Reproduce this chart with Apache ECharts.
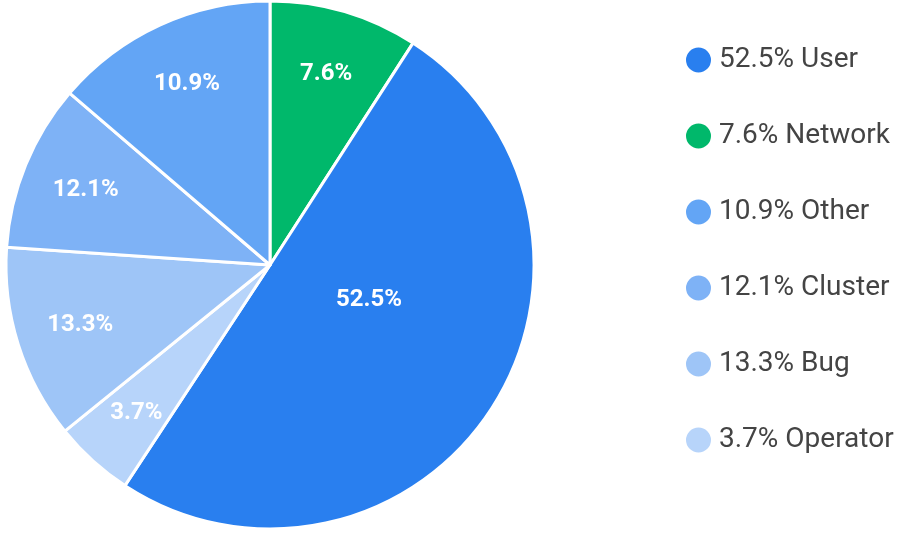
<!DOCTYPE html>
<html>
<head>
<meta charset="utf-8">
<script src="https://cdn.jsdelivr.net/npm/echarts@6/dist/echarts.min.js"></script>
<style>html,body{margin:0;padding:0;background:#fff}#c{width:899px;height:535px}</style>
</head>
<body>
<div id="c"></div>
<script>
// Slices in drawing order (clockwise from 12 o'clock)
var names = ['Network', 'User', 'Operator', 'Bug', 'Cluster', 'Other'];
// Slice sizes as drawn in the picture (percent of circle)
var sliceValues = [9.1, 50.1, 4.9, 11.9, 10.2, 13.7];
// Percent texts shown on slices and in legend
var shareLabels = ['7.6%', '52.5%', '3.7%', '13.3%', '12.1%', '10.9%'];
var colors = ['#00b86b', '#297fef', '#b7d4fa', '#9ec5f7', '#7eb2f6', '#63a5f5'];
var legendOrder = ['User', 'Network', 'Other', 'Cluster', 'Bug', 'Operator'];

function build(showFn, visible) {
  return names.map(function (n, i) {
    return {
      name: n,
      value: sliceValues[i],
      itemStyle: visible ? { color: colors[i] } : { color: 'rgba(0,0,0,0)', borderWidth: 0 },
      label: { show: showFn(i) }
    };
  });
}
var labelStyle = {
  position: 'inside', color: '#fff', fontFamily: 'Roboto', fontWeight: 'bold', fontSize: 24,
  formatter: function (p) { return shareLabels[p.dataIndex]; }
};
var common = { type: 'pie', center: [270, 265], startAngle: 90, clockwise: true,
  avoidLabelOverlap: false, animation: false, labelLine: { show: false } };

var chart = echarts.init(document.getElementById('c'), null, { renderer: 'canvas' });
chart.setOption({
  color: colors,
  legend: {
    data: legendOrder, orient: 'vertical', left: 679, top: 40,
    icon: 'circle', itemWidth: 27, itemHeight: 27, itemGap: 46,
    selectedMode: false,
    textStyle: { fontFamily: 'Roboto', fontSize: 28, color: '#444', lineHeight: 30, padding: [0, 0, 0, 2] },
    formatter: function (n) { return shareLabels[names.indexOf(n)] + ' ' + n; }
  },
  series: [
    Object.assign({}, common, {
      radius: [0, 264],
      itemStyle: { borderColor: '#fff', borderWidth: 3 },
      label: { show: false },
      data: build(function () { return false; }, true)
    }),
    Object.assign({}, common, {
      radius: [128, 264], silent: true,
      label: labelStyle,
      data: build(function (i) { return names[i] !== 'User'; }, false)
    }),
    Object.assign({}, common, {
      radius: [0, 204], silent: true,
      label: labelStyle,
      labelLayout: function (p) { return { dx: 11, dy: -22 }; },
      data: build(function (i) { return names[i] === 'User'; }, false)
    })
  ]
});
</script>
</body>
</html>
